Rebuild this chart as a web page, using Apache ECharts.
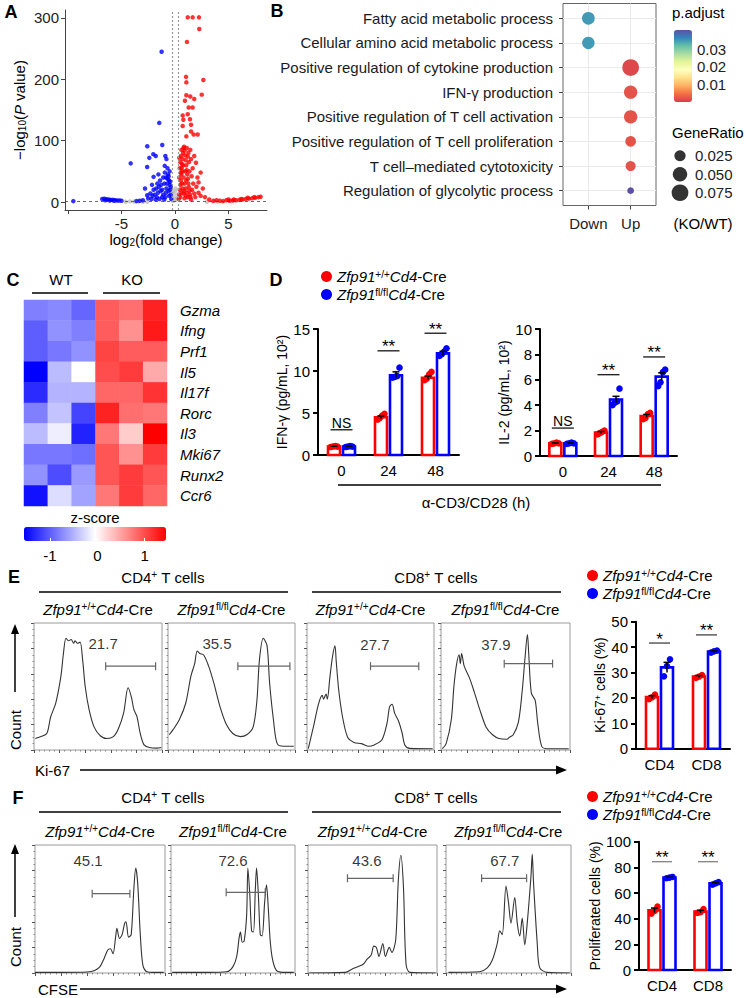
<!DOCTYPE html>
<html><head><meta charset="utf-8">
<script src="https://cdn.jsdelivr.net/npm/echarts@6/dist/echarts.min.js"></script>
<style>html,body{margin:0;padding:0;background:#fff}#c{width:746px;height:998px}</style>
</head><body><div id="c"></div>
<script>
// ================= DATA =================
// Panel A: volcano plot  [log2FC, -log10 P]
const volcanoUp = [
[1.19,301],[1.65,301],[2.24,301],[2.27,282],[1.12,261],[2.65,199],[1.03,204],[1.06,195],[2.5,175],[1.06,174],[1.43,172],[1.8,168],[0.93,165],[1.28,154],[1.65,154],[0.72,141],[1.19,143],[1.4,135],[0.78,134],[1.5,126],[2.12,110],[1.74,110],[1.06,107],[1.5,115],[0.72,124],[1.96,64],[2.4,48],[2.2,32],[1.43,85],[1.2,74],
[0.35,5],[0.4,12],[0.45,20],[0.5,28],[0.55,35],[0.6,45],[0.62,55],[0.65,62],[0.7,70],[0.75,80],[0.8,88],[0.85,90],[0.9,84],[0.95,76],[1.0,68],[1.05,60],[1.1,52],[1.15,45],[1.2,38],[1.25,30],[1.3,24],[1.35,18],[1.4,12],[1.45,8],[1.5,4],[0.4,40],[0.45,55],[0.5,65],[0.55,75],[0.6,85],[0.7,50],[0.8,40],[0.9,30],[1.0,22],[1.1,15],[1.2,8],[0.5,8],[0.6,15],[0.7,22],[0.8,14],[0.9,6],[1.0,10],[1.6,20],[1.7,30],[1.8,14],[1.9,8],[2.0,25],[2.2,15],[2.4,10],[1.55,42],[1.65,55],[0.95,50],[1.1,88],[0.65,30],[0.75,60],[0.85,18],[1.3,65],[0.4,72],[1.25,80],[0.55,48],[1.05,35],[1.35,50],[1.8,75],[2.1,40],[2.6,22],[2.8,8],[3.2,4],[3.6,2],[1.5,70],
[3.9,3],[4.2,2],[4.5,1.5],[4.8,3],[5.0,4],[5.1,2],[5.4,2.5],[5.5,4],[5.7,3],[6.0,3.5],[6.2,5],[6.3,4],[6.6,5],[6.8,7],[6.9,5.5],[7.2,6],[7.4,8],[7.5,7],[7.8,8],[8.0,8.5]
];
const volcanoDown = [
[-1.25,245],[-1.47,129],[-1.19,93],[-2.59,91],[-4.14,63],[-2.03,78],[-1.8,75],[-2.4,72],[-0.9,75],[-0.8,70],[-2.6,57],[-0.96,59],[-2.0,41],[-2.8,22],[-2.6,11],
[-0.35,5],[-0.4,12],[-0.45,20],[-0.5,28],[-0.55,35],[-0.6,42],[-0.65,45],[-0.7,38],[-0.75,30],[-0.8,22],[-0.85,15],[-0.9,8],[-1.0,4],[-1.1,12],[-1.2,20],[-1.3,28],[-1.4,35],[-1.5,25],[-1.6,15],[-1.7,8],[-1.8,4],[-1.9,12],[-2.0,20],[-2.1,10],[-2.2,5],[-2.3,14],[-2.5,6],[-0.5,50],[-0.6,18],[-0.7,55],[-1.0,30],[-1.1,40],[-1.2,8],[-1.35,18],[-0.95,48],[-0.45,33],[-0.55,10],[-1.65,30],[-1.75,22],[-2.15,28],[-1.45,5],[-0.85,40],[-0.4,25],[-1.55,45],[-3.0,3],[-3.3,2],[-3.6,1.5],
[-6.8,5],[-6.6,5.5],[-6.4,4.5],[-6.2,4],[-6.0,3.5],[-5.8,3.5],[-5.6,3],[-5.4,2.5],[-5.2,2.5],[-5.0,2],[-6.5,3],[-6.1,2.5],[-5.7,2],[-9.5,1.5]
];
const volcanoNS = [[-0.2,2],[0.1,4],[-0.1,8],[0.2,12],[0.0,18],[-0.15,15],[0.15,6],[-4.2,1],[-3.8,0.8],[-3.4,1],[-3.0,0.5],[3.0,0.5],[3.5,1],[4.0,0.8],[0.05,22],[-0.05,3],[-4.6,0.5],[-2.6,0.4]];
const volcanoXTicks = [-5, 0, 5];
const volcanoYTicks = [0, 100, 200, 300];
const volcanoCutP = 1.3;
const volcanoCutFC = 0.26;

// Panel B: GO dot plot
const goTerms = ['Fatty acid metabolic process','Cellular amino acid metabolic process','Positive regulation of cytokine production','IFN-\u03b3 production','Positive regulation of T cell activation','Positive regulation of T cell proliferation','T cell\u2013mediated cytotoxicity','Regulation of glycolytic process'];
const goDirectionNames = ['Down', 'Up'];
const goDirection = [1, 1, 2, 2, 2, 2, 2, 2];
const goGeneRatio = [0.035, 0.033, 0.075, 0.0395, 0.0395, 0.022, 0.019, 0.012];
const goPAdjust = [0.035, 0.035, 0.001, 0.002, 0.002, 0.002, 0.002, 0.041];
const geneRatioLegend = [0.025, 0.050, 0.075];
const pAdjustTicks = [0.01, 0.02, 0.03];

// Panel C: heatmap z-scores
const heatGenes = ['Gzma','Ifng','Prf1','Il5','Il17f','Rorc','Il3','Mki67','Runx2','Ccr6'];
const heatSamples = ['WT1','WT2','WT3','KO1','KO2','KO3'];
const heatZ = [
[-0.8,-0.75,-0.95,0.9,0.8,1.25],
[-1.0,-0.7,-0.8,0.9,0.6,1.3],
[-1.0,-0.85,-0.7,1.05,0.9,0.9],
[-1.55,-0.45,-0.05,1.0,1.1,0.45],
[-1.3,-0.5,-0.5,0.85,0.85,1.15],
[-0.8,-0.4,-1.15,1.25,0.8,0.75],
[-0.45,-0.15,-1.35,0.75,0.25,1.45],
[-0.85,-0.85,-0.9,0.95,0.6,1.1],
[-0.7,-1.1,-0.65,0.95,1.1,0.95],
[-1.45,-0.25,-0.6,0.75,1.1,0.85]
];
const zTicks = [-1, 0, 1];

// Panel D: cytokines
const timeCats = ['0', '24', '48'];
const ifnWTMean = [1.0, 4.5, 9.2];
const ifnWTSem = [0.04, 0.15, 0.2];
const ifnWTPts = [[0.95,1.0,1.05,1.0],[4.2,4.4,4.7,4.9],[8.9,9.1,9.6,9.9]];
const ifnKOMean = [1.0, 9.5, 12.1];
const ifnKOSem = [0.04, 0.4, 0.25];
const ifnKOPts = [[0.95,1.0,1.05,1.0],[9.2,9.3,9.4,10.4],[11.8,12.0,12.3,12.7]];
const ifnSigY = [3.0, 12.4, 14.5];
const ifnSigText = ['NS', '**', '**'];
const il2WTMean = [1.0, 1.85, 3.15];
const il2WTSem = [0.03, 0.08, 0.12];
const il2WTPts = [[0.95,1.0,1.05,1.0],[1.7,1.8,1.9,2.0],[2.9,3.0,3.3,3.4]];
const il2KOMean = [1.0, 4.45, 6.25];
const il2KOSem = [0.03, 0.25, 0.3];
const il2KOPts = [[0.95,1.0,1.05,1.0],[4.0,4.2,4.3,5.3],[5.5,5.8,6.6,6.8]];
const il2SigY = [2.2, 6.4, 7.8];
const il2SigText = ['NS', '**', '**'];

// Panel E / F: flow cytometry
const cellCats = ['CD4', 'CD8'];
const kiWTMean = [20.3, 28.4];
const kiWTSem = [0.6, 0.4];
const kiWTPts = [[19.5,20.2,21.3],[27.9,28.4,29.0]];
const kiKOMean = [32.0, 38.2];
const kiKOSem = [2.0, 0.3];
const kiKOPts = [[28.5,32.5,35.2],[37.8,38.3,38.6]];
const kiSigY = [41.6, 44.8];
const kiSigText = ['*', '**'];
const prWTMean = [46.5, 45.5];
const prWTSem = [1.8, 1.0];
const prWTPts = [[44,46,49.5],[44.5,45,47.5]];
const prKOMean = [72.0, 67.5];
const prKOSem = [0.3, 0.6];
const prKOPts = [[71.5,72,72.5],[66.5,67.5,68.5]];
const prSigY = [84.4, 84.4];
const prSigText = ['**', '**'];

// histogram traces [channel %, count %]
const histE1 = [[1,9],[5,10.5],[10,13],[13,26],[17,37],[21,58],[23,76],[25,88],[27,86],[29,87],[31,84],[32,86],[34,84],[36,85],[38,71],[40,50],[43,32],[47,18],[52,11],[57,9],[62,10.5],[66,17],[70,29],[73.5,49],[76,42],[78,32],[80.5,26],[83,13],[86,4],[90,2],[96,1.5],[99.5,2]];
const histE2 = [[1,12],[4,16],[9,24],[14,37],[18,58],[21,68],[23,78],[25,76],[28,75],[32,66],[36,53],[41,34],[46,20],[51,13],[57,10.5],[62,12],[67,18],[70,39],[72,71],[75,88],[78,82],[80,53],[83,24],[86,5],[91,3],[99,3]];
const histE3 = [[1,1],[5,18],[9,36],[12,43],[13,40],[15,44],[16,40],[18,57],[20,73],[22,82],[23,70],[25,47],[28,26],[32,10],[37,6],[43,5],[48,3],[53,4],[59,8],[63,21],[65,34],[67,36],[69,29],[72,23],[75,13],[77,4],[81,1.3],[99,1]];
const histE4 = [[1,1],[4,5],[8,24],[10,50],[12,67],[14,75],[15,68],[16,76],[18,66],[22,57],[26,45],[30,32],[35,18],[40,12],[45,9],[51,8.5],[53,10],[56,12],[60,22],[63,47],[65,71],[67,91],[68,76],[70,45],[73,39],[75,21],[78,3],[82,1],[99,1]];
const histF1 = [[0,0.5],[20,0.5],[40,0.8],[46,2],[50,5],[53,11],[56,18],[58,19],[60,15],[62,28],[63,35],[65,27],[67,30],[69,39],[70,40],[72,28],[74,30],[76,65],[77.5,82],[79,70],[81,30],[83,6],[86,1],[92,0.5],[99,0.5]];
const histF2 = [[1,0.5],[30,0.5],[45,1],[50,5],[53,13],[55,28],[56,32],[57.5,24],[59,25],[61,45],[62,82],[63.5,62],[65,33],[66.5,32],[68,65],[69,82],[70.5,60],[72,30],[73.5,29],[75.5,55],[77,69],[78.5,50],[80,25],[82,10],[85,2],[90,0.5],[99,0.5]];
const histF3 = [[1,0],[29,0.5],[34,3],[39,5],[43,7],[46,11],[49,14],[51,21],[53,20],[55,13],[58,23],[60,13],[63,20],[65,16],[68,26],[70,72],[72,92],[74,67],[76,7],[79,0.5],[99,0]];
const histF4 = [[2,0.5],[27,1],[33,4],[37,10],[41,23],[43,33],[45,30],[48,68],[50,55],[52,39],[55,59],[57,39],[59,29],[61,43],[63,22],[65,39],[68,76],[69,93],[70,71],[73,23],[75,4],[81,0.5],[99,0]];
const gatesE = [[56,95,66],[55,96,66],[50,88,66],[49,86.5,68]];
const gatesF = [[44,73,62],[44.5,76,63],[30.6,66,74],[28.5,64.5,74]];
const gateNumE = ['21.7','35.5','27.7','37.9'];
const gateNumEPos = [[54,84],[38.6,84],[53.5,82.7],[42.6,82.7]];
const gateNumF = ['45.1','72.6','43.6','67.7'];
const gateNumFPos = [[40.8,88],[50,88],[45.7,88],[47,88]];

// ================= BUILD =================
const FF = '"Liberation Sans", Arial, Helvetica, sans-serif';
const RED = '#FF0000', BLUE = '#0000FF';
const chart = echarts.init(document.getElementById('c'), null, {renderer: 'svg', width: 746, height: 998});
const option = {animation: false, textStyle: {fontFamily: FF}, grid: [], xAxis: [], yAxis: [], series: [], visualMap: [], legend: [], graphic: []};
function addGrid(g, x, y) {
  const gi = option.grid.length; g.containLabel = false; option.grid.push(g);
  x.gridIndex = gi; y.gridIndex = gi; option.xAxis.push(x); option.yAxis.push(y);
  return option.xAxis.length - 1;
}
function addSeries(s, ai) { s.xAxisIndex = ai; s.yAxisIndex = ai; option.series.push(s); return option.series.length - 1; }

const richBase = {
  t: {fontSize: 15, fontFamily: FF, color: '#000'},
  ti: {fontSize: 15, fontFamily: FF, color: '#000', fontStyle: 'italic'},
  sub: {fontSize: 10, fontFamily: FF, color: '#000', verticalAlign: 'bottom'},
  i: {fontSize: 15, fontFamily: FF, color: '#000', fontStyle: 'italic'},
  n: {fontSize: 15, fontFamily: FF, color: '#000'},
  sup: {fontSize: 10, fontFamily: FF, color: '#000', verticalAlign: 'top'}
};
const genoLabel = {WT: '{i|Zfp91}{sup|+/+}{i|Cd4}{n|-Cre}', KO: '{i|Zfp91}{sup|fl/fl}{i|Cd4}{n|-Cre}'};

// ---------- Panel A ----------
const aA = addGrid({left: 65, top: 10, width: 202, height: 200},
  {type: 'value', min: -10.28, max: 8.6,
   axisLine: {show: true, onZero: false, lineStyle: {color: '#444'}},
   axisTick: {show: true, length: 4, customValues: [-10, -5, 0, 5], lineStyle: {color: '#444'}},
   axisLabel: {customValues: volcanoXTicks, fontSize: 15, color: '#222', margin: 6},
   splitLine: {show: false},
   name: '{t|log}{sub|2}{t|(fold change)}', nameLocation: 'middle', nameGap: 22,
   nameTextStyle: {rich: richBase}},
  {type: 'value', min: -13, max: 313,
   axisLine: {show: true, onZero: false, lineStyle: {color: '#444'}},
   axisTick: {show: true, length: 4, customValues: volcanoYTicks, lineStyle: {color: '#444'}},
   axisLabel: {customValues: volcanoYTicks, fontSize: 15, color: '#222', margin: 6},
   splitLine: {show: false},
   name: '{t|\u2212log}{sub|10}{t|(}{ti|P}{t| value)}', nameLocation: 'middle', nameGap: 38,
   nameTextStyle: {rich: richBase}});
addSeries({type: 'scatter', data: volcanoNS, symbolSize: 4.5, itemStyle: {color: '#BEBEBE'}, silent: true,
  markLine: {silent: true, symbol: 'none', label: {show: false}, animation: false,
    data: [{yAxis: volcanoCutP, lineStyle: {type: [3, 3], color: '#444', width: 0.8}},
           {xAxis: -volcanoCutFC, lineStyle: {type: [2, 2], color: '#999', width: 1.2}},
           {xAxis: volcanoCutFC, lineStyle: {type: [2, 2], color: '#999', width: 1.2}}]}}, aA);
addSeries({type: 'scatter', data: volcanoDown, symbolSize: 4.5, itemStyle: {color: BLUE}, silent: true}, aA);
addSeries({type: 'scatter', data: volcanoUp, symbolSize: 4.5, itemStyle: {color: RED}, silent: true}, aA);

// ---------- Panel B ----------
function goSize(g) { return 6.7 + 10 * Math.sqrt(Math.max(0, (g - 0.012) / 0.063)); }
const rowIdx = goTerms.map((t, i) => i + 1);
const aB = addGrid({left: 563, top: 3.5, width: 93, height: 202, show: true, borderColor: '#666', borderWidth: 1},
  {type: 'value', min: 0.4, max: 2.6,
   axisLine: {show: false},
   axisTick: {show: true, length: 4, customValues: [1, 2], lineStyle: {color: '#444'}},
   axisLabel: {customValues: [1, 2], formatter: v => goDirectionNames[v - 1], fontSize: 15, color: '#222', margin: 10},
   splitLine: {show: true, lineStyle: {color: '#EBEBEB'}}},
  {type: 'value', min: 0.4, max: 8.6, inverse: true,
   axisLine: {show: false},
   axisTick: {show: true, length: 4, customValues: rowIdx, lineStyle: {color: '#444'}},
   axisLabel: {customValues: rowIdx, formatter: v => goTerms[v - 1], fontSize: 15, color: '#1a1a1a', margin: 10},
   splitLine: {show: true, lineStyle: {color: '#EBEBEB'}}});
const dotIdx = addSeries({type: 'scatter', silent: true,
  data: goTerms.map((t, i) => [goDirection[i], i + 1, goGeneRatio[i], goPAdjust[i]]),
  symbolSize: v => goSize(v[2]), itemStyle: {opacity: 1}}, aB);

const aG = addGrid({left: 672, top: 146.5, width: 16, height: 55.5},
  {type: 'value', min: -1, max: 1, show: false},
  {type: 'category', data: geneRatioLegend.map(v => v.toFixed(3)), inverse: true, position: 'right',
   axisLine: {show: false}, axisTick: {show: false}, axisLabel: {interval: 0, fontSize: 15, color: '#222', margin: 7}});
addSeries({type: 'scatter', silent: true, data: geneRatioLegend.map((g, i) => [0, i, g]),
  symbolSize: v => goSize(v[2]), itemStyle: {color: '#000'}}, aG);

const aP = addGrid({left: 674, top: 30, width: 18, height: 72},
  {type: 'value', min: 0, max: 1, show: false},
  {type: 'value', min: 0, max: 0.041, position: 'right', z: 10,
   axisLine: {show: false},
   axisTick: {show: true, inside: true, length: 4, customValues: pAdjustTicks, lineStyle: {color: '#fff', width: 1}},
   axisLabel: {customValues: pAdjustTicks, formatter: v => v.toFixed(2), fontSize: 15, color: '#222', margin: 5},
   splitLine: {show: false}});
option.visualMap.push({type: 'continuous', seriesIndex: dotIdx, dimension: 3, min: 0, max: 0.041,
  inRange: {color: ['#D53E4F','#F46D43','#FDAE61','#FEE08B','#FFFFBF','#E6F598','#ABDDA4','#66C2A5','#3288BD','#5E4FA2']},
  orient: 'vertical', left: 674, top: 30, itemWidth: 18, itemHeight: 72, calculable: false, padding: 0, hoverLink: false});

// ---------- Panel C ----------
const aC = addGrid({left: 24, top: 300, width: 143, height: 206},
  {type: 'category', data: heatSamples, show: false},
  {type: 'category', data: heatGenes, inverse: true, position: 'right',
   axisLine: {show: false}, axisTick: {show: false},
   axisLabel: {interval: 0, fontSize: 15, fontStyle: 'italic', color: '#000', margin: 13}});
const heatData = [];
heatZ.forEach((row, r) => row.forEach((z, c) => heatData.push([c, r, z])));
const heatIdx = addSeries({type: 'heatmap', data: heatData, silent: true, itemStyle: {borderWidth: 0}}, aC);
option.visualMap.push({type: 'continuous', seriesIndex: heatIdx, dimension: 2, min: -1.55, max: 1.45,
  inRange: {color: ['#0000FF', '#FFFFFF', '#FF0000']}, orient: 'horizontal', left: 24, top: 527,
  itemWidth: 14, itemHeight: 142, calculable: false, padding: 0, hoverLink: false});
const aZ = addGrid({left: 24, top: 527, width: 142, height: 14},
  {type: 'value', min: -1.55, max: 1.45, z: 10,
   axisLine: {show: false},
   axisTick: {show: true, inside: true, length: 3, customValues: zTicks, lineStyle: {color: '#fff'}},
   axisLabel: {customValues: zTicks, fontSize: 15, color: '#000', margin: 7},
   splitLine: {show: false}},
  {type: 'value', min: 0, max: 1, show: false});

// ---------- bar chart helpers ----------
function barX(cats) {
  return {type: 'category', data: cats,
    axisLine: {lineStyle: {color: '#000', width: 2}},
    axisTick: {alignWithLabel: true, length: 5, lineStyle: {color: '#000', width: 2}},
    axisLabel: {interval: 0, fontSize: 15, color: '#000', margin: 8}};
}
function barY(min, max, interval, name, gap) {
  return {type: 'value', min, max, interval,
    axisLine: {show: true, lineStyle: {color: '#000', width: 2}},
    axisTick: {show: true, length: 5, lineStyle: {color: '#000', width: 2}},
    axisLabel: {fontSize: 15, color: '#000', margin: 8},
    splitLine: {show: false},
    name, nameLocation: 'middle', nameGap: gap,
    nameTextStyle: {fontSize: 14, color: '#000', rich: {t: {fontSize: 14, color: '#000'}, sup: {fontSize: 9, color: '#000', verticalAlign: 'top'}}}};
}
function barGroup(name, color, means, sems, pts, offset) {
  return {type: 'custom', name, silent: true, itemStyle: {color},
    data: means.map((m, i) => [i, m, sems[i]]),
    renderItem: (params, api) => {
      const i = api.value(0), m = api.value(1), s = api.value(2);
      const p0 = api.coord([i, 0]), pm = api.coord([i, m]);
      const cx = p0[0] + offset, w = 12;
      const hi = api.coord([i, m + s])[1], lo = api.coord([i, m - s])[1];
      const kids = [{type: 'rect', shape: {x: cx - w / 2, y: pm[1], width: w, height: p0[1] - pm[1]},
        style: {fill: '#fff', stroke: color, lineWidth: 2.6}}];
      const vals = pts[params.dataIndex];
      const jit = vals.length === 4 ? [-3.5, -1.2, 1.2, 3.5] : [-3, 0, 3];
      vals.forEach((v, k) => kids.push({type: 'circle', shape: {cx: cx + jit[k], cy: api.coord([i, v])[1], r: 3.3}, style: {fill: color}}));
      kids.push({type: 'line', shape: {x1: cx, y1: lo, x2: cx, y2: hi}, style: {stroke: '#000', lineWidth: 1.5}});
      kids.push({type: 'line', shape: {x1: cx - 3.5, y1: hi, x2: cx + 3.5, y2: hi}, style: {stroke: '#000', lineWidth: 1.5}});
      return {type: 'group', children: kids};
    }};
}
function sigSeries(ys, texts, halfW, color) {
  return {type: 'custom', silent: true, data: ys.map((y, i) => [i, y]),
    renderItem: (params, api) => {
      const p = api.coord([api.value(0), api.value(1)]);
      const t = texts[params.dataIndex];
      const star = t.indexOf('*') >= 0;
      return {type: 'group', children: [
        {type: 'line', shape: {x1: p[0] - halfW, y1: p[1], x2: p[0] + halfW, y2: p[1]}, style: {stroke: color, lineWidth: 1.2}},
        {type: 'text', style: {text: t, x: p[0], y: star ? p[1] - 4 : p[1] - 7, align: 'center', verticalAlign: 'middle',
          fontSize: star ? 17 : 14, fontFamily: FF, fill: '#000'}}]};
    }};
}

// ---------- Panel D ----------
const aI = addGrid({left: 318, top: 329, width: 141, height: 126}, barX(timeCats), barY(0, 15, 5, 'IFN-\u03b3 (pg/mL, 10\u00b2)', 22));
addSeries(barGroup('WT', RED, ifnWTMean, ifnWTSem, ifnWTPts, -7.5), aI);
addSeries(barGroup('KO', BLUE, ifnKOMean, ifnKOSem, ifnKOPts, 7.5), aI);
addSeries(sigSeries(ifnSigY, ifnSigText, 11, '#000'), aI);
const aL = addGrid({left: 540, top: 329, width: 137, height: 127}, barX(timeCats), barY(0, 10, 2, 'IL-2 (pg/mL, 10\u00b2)', 22));
addSeries(barGroup('WT', RED, il2WTMean, il2WTSem, il2WTPts, -7.5), aL);
addSeries(barGroup('KO', BLUE, il2KOMean, il2KOSem, il2KOPts, 7.5), aL);
addSeries(sigSeries(il2SigY, il2SigText, 11, '#000'), aL);

// ---------- Panel E / F bars ----------
const aK = addGrid({left: 636, top: 621.7, width: 94, height: 127}, barX(cellCats), barY(0, 50, 10, '{t|Ki-67}{sup|+}{t| cells (%)}', 26));
addSeries(barGroup('WT', RED, kiWTMean, kiWTSem, kiWTPts, -7.5), aK);
addSeries(barGroup('KO', BLUE, kiKOMean, kiKOSem, kiKOPts, 7.5), aK);
addSeries(sigSeries(kiSigY, kiSigText, 10.5, '#333'), aK);
const aR = addGrid({left: 639, top: 841.7, width: 92, height: 128.3}, barX(cellCats), barY(0, 100, 20, 'Proliferated cells (%)', 32));
addSeries(barGroup('WT', RED, prWTMean, prWTSem, prWTPts, -7.5), aR);
addSeries(barGroup('KO', BLUE, prKOMean, prKOSem, prKOPts, 7.5), aR);
addSeries(sigSeries(prSigY, prSigText, 10, '#777'), aR);

// ---------- histograms ----------
function histPanel(box, trace, gate, num, numPos) {
  const a = addGrid({left: box[0], top: box[1], width: box[2], height: box[3], show: true, borderColor: '#9a9a9a', borderWidth: 1},
    {type: 'value', min: 0, max: 100, interval: 20, axisLine: {show: false}, axisLabel: {show: false}, splitLine: {show: false},
     axisTick: {show: true, length: 3, lineStyle: {color: '#555'}}, minorTick: {show: true, splitNumber: 5, length: 1.5, lineStyle: {color: '#888'}}},
    {type: 'value', min: 0, max: 100, interval: 20, axisLine: {show: false}, axisLabel: {show: false}, splitLine: {show: false},
     axisTick: {show: true, length: 3, lineStyle: {color: '#555'}}, minorTick: {show: true, splitNumber: 4, length: 1.5, lineStyle: {color: '#888'}}});
  addSeries({type: 'line', data: trace, smooth: 0.3, showSymbol: false, symbol: 'none', silent: true, lineStyle: {color: '#333', width: 1.1}}, a);
  addSeries({type: 'line', data: [[gate[0], gate[2]], [gate[1], gate[2]]], symbol: 'rect', symbolSize: [1.2, 8], silent: true,
    lineStyle: {color: '#666', width: 1.2}, itemStyle: {color: '#666'}}, a);
  addSeries({type: 'scatter', data: [numPos], symbolSize: 0, silent: true,
    label: {show: true, position: 'inside', formatter: num, fontSize: 15, color: '#000', fontFamily: FF}}, a);
}
const boxesE = [[34,623,128,127],[168,623,127,127],[307,623,127,127],[441,623,129,127]];
const boxesF = [[35,845,130,128],[171,845,124,128],[308,845,129,128],[446,845,125,128]];
[histE1, histE2, histE3, histE4].forEach((h, k) => histPanel(boxesE[k], h, gatesE[k], gateNumE[k], gateNumEPos[k]));
[histF1, histF2, histF3, histF4].forEach((h, k) => histPanel(boxesF[k], h, gatesF[k], gateNumF[k], gateNumFPos[k]));

// ---------- legends ----------
function genoLegend(left, top) {
  return {data: ['WT', 'KO'], left, top, orient: 'vertical', icon: 'circle', itemWidth: 11, itemHeight: 11, itemGap: 3,
    padding: 0, selectedMode: false, formatter: n => genoLabel[n], textStyle: {fontSize: 15, rich: richBase}};
}
option.legend.push(genoLegend(321, 269), genoLegend(587, 568), genoLegend(587, 789));

// ---------- graphic annotations ----------
const G = option.graphic;
function txt(text, x, y, o) {
  o = o || {};
  const el = {type: 'text', x, y, rotation: o.rot || 0, silent: true,
    style: {text, x: 0, y: 0, align: o.align || 'center', verticalAlign: 'middle', fontSize: o.size || 15,
      fontWeight: o.bold ? 'bold' : 'normal', fontFamily: FF, fill: '#000', rich: richBase}};
  G.push(el);
}
function ln(x1, y1, x2, y2, w, c) { G.push({type: 'line', silent: true, shape: {x1, y1, x2, y2}, style: {stroke: c || '#000', lineWidth: w || 1.5}}); }
function poly(pts) { G.push({type: 'polygon', silent: true, shape: {points: pts}, style: {fill: '#000'}}); }
txt('A', 11, 12, {bold: true, size: 18});
txt('B', 277, 11, {bold: true, size: 18});
txt('C', 13, 280, {bold: true, size: 18});
txt('D', 276, 280, {bold: true, size: 18});
txt('E', 14, 577, {bold: true, size: 18});
txt('F', 18, 798, {bold: true, size: 18});
txt('p.adjust', 672, 12, {align: 'left'});
txt('GeneRatio', 672, 132, {align: 'left'});
txt('(KO/WT)', 703, 223);
txt('WT', 61, 279); ln(32, 293, 88, 293);
txt('KO', 132, 279); ln(103, 293, 160, 293);
txt('z-score', 95, 517);
ln(338, 485, 661, 485); txt('\u03b1-CD3/CD28 (h)', 476, 502);
[[577, 592, 609, boxesE], [797, 812, 831, boxesF]].forEach(([yh, yl, ys, boxes]) => {
  txt('{t|CD4}{sup|+}{t| T cells}', 163, yh); ln(39, yl, 288, yl);
  txt('{t|CD8}{sup|+}{t| T cells}', 436, yh); ln(312, yl, 561, yl);
  boxes.forEach((b, k) => txt(genoLabel[k % 2 === 0 ? 'WT' : 'KO'], b[0] + b[2] / 2, ys));
});
// E axes arrows
ln(15, 633, 15, 692); poly([[15, 624], [11, 634], [19, 634]]); txt('Count', 15, 730, {rot: Math.PI / 2});
txt('Ki-67', 35, 770, {align: 'left'}); ln(80, 770, 558, 770); poly([[567, 770], [556, 765.5], [556, 774.5]]);
// F axes arrows
ln(15, 853, 15, 917); poly([[15, 844], [11, 854], [19, 854]]); txt('Count', 15, 947, {rot: Math.PI / 2});
txt('CFSE', 38, 989, {align: 'left'}); ln(80, 989, 558, 989); poly([[567, 989], [556, 984.5], [556, 993.5]]);

chart.setOption(option);
</script></body></html>
